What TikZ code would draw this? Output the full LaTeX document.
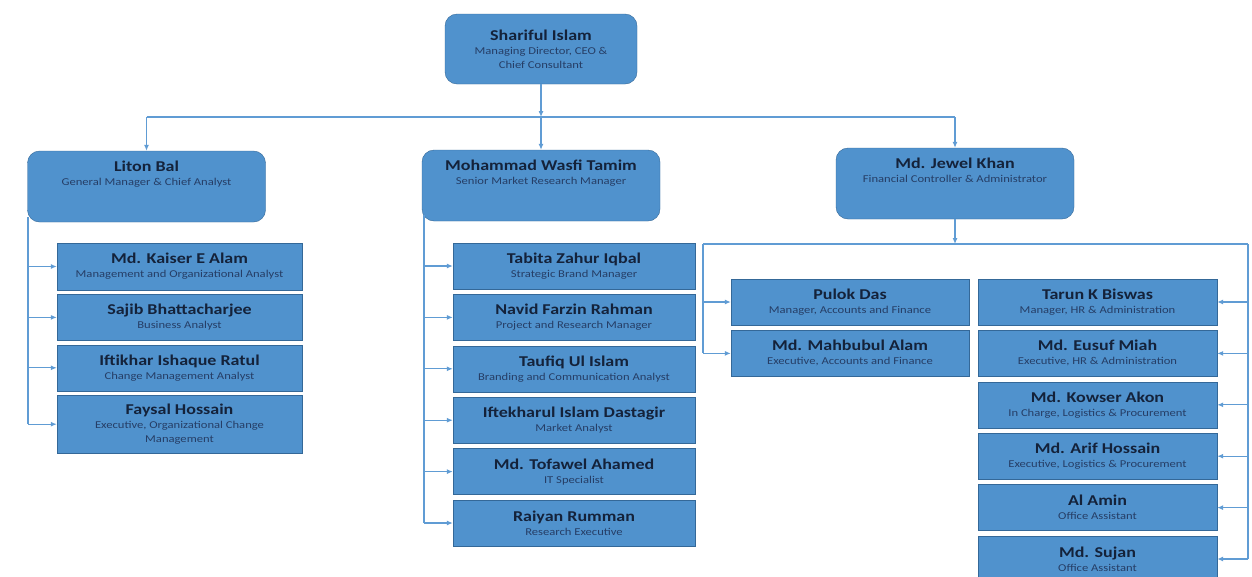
\documentclass[tikz,border=0pt]{standalone}
\usepackage{fontspec}
\setmainfont{Carlito}[FakeStretch=1.2]
\usepackage{tikz}
\usetikzlibrary{arrows.meta,positioning}
\definecolor{boxblue}{RGB}{80,146,205}
\definecolor{boxedge}{RGB}{52,104,152}
\definecolor{linkblue}{RGB}{96,156,212}
\definecolor{namecol}{RGB}{20,34,58}
\definecolor{rolecol}{RGB}{38,62,102}
\newcommand\pname[1]{{\fontsize{15}{17}\selectfont\bfseries\color{namecol}#1}}

\begin{document}
\begin{tikzpicture}[
  x=1pt,y=-1pt,
  node distance=5pt,
  card/.style={align=center,text=rolecol,font=\fontsize{10.5}{14}\selectfont,inner sep=2pt},
  mgr/.style={draw=boxedge,fill=boxblue,rounded corners=12pt,minimum width=238pt,minimum height=71pt},
  staff/.style={card,draw=boxedge,fill=boxblue,minimum width=242pt,minimum height=46pt,inner sep=1pt},
  wire/.style={linkblue,line width=1.1pt},
  arr/.style={wire,-{Latex[length=6pt,width=5pt]}}
]
  \fill[white] (0,0) rectangle (1252,576);
  \useasboundingbox (0,0) rectangle (1252,576);

  % top
  \node[mgr,card,minimum width=192pt,minimum height=70pt] (shariful) at (541,49)
    {\pname{Shariful Islam}\\Managing Director, CEO \&\\Chief Consultant};

  % managers
  \node[mgr] (liton) at (146.5,186.5) {};
  \node[card,below=8pt of liton.north] (liton-t) {\pname{Liton Bal}\\General Manager \& Chief Analyst};
  \node[mgr] (mohammad) at (541,185.5) {};
  \node[card,below=8pt of mohammad.north] (mohammad-t) {\pname{Mohammad Wasfi Tamim}\\Senior Market Research Manager};
  \node[mgr] (jewel) at (955,183.5) {};
  \node[card,below=8pt of jewel.north] (jewel-t) {\pname{Md. Jewel Khan}\\Financial Controller \& Administrator};

  % left column
  \node[staff,minimum width=245pt,minimum height=47pt] (kaiser) at (179.5,266.5)
    {\pname{Md. Kaiser E Alam}\\Management and Organizational Analyst};
  \node[staff,minimum width=245pt,below=4pt of kaiser] (sajib) {\pname{Sajib Bhattacharjee}\\Business Analyst};
  \node[staff,minimum width=245pt,below=4pt of sajib] (iftikhar) {\pname{Iftikhar Ishaque Ratul}\\Change Management Analyst};
  \node[staff,minimum width=245pt,minimum height=58pt,below=4pt of iftikhar] (faysal)
    {\pname{Faysal Hossain}\\Executive, Organizational Change\\Management};

  % middle column
  \node[staff] (tabita) at (574,266) {\pname{Tabita Zahur Iqbal}\\Strategic Brand Manager};
  \node[staff,below=of tabita] (navid) {\pname{Navid Farzin Rahman}\\Project and Research Manager};
  \node[staff,below=of navid] (taufiq) {\pname{Taufiq Ul Islam}\\Branding and Communication Analyst};
  \node[staff,below=of taufiq] (iftekharul) {\pname{Iftekharul Islam Dastagir}\\Market Analyst};
  \node[staff,below=of iftekharul] (tofawel) {\pname{Md. Tofawel Ahamed}\\IT Specialist};
  \node[staff,below=of tofawel] (raiyan) {\pname{Raiyan Rumman}\\Research Executive};

  % right block
  \node[staff,minimum width=238pt] (pulok) at (850,302) {\pname{Pulok Das}\\Manager, Accounts and Finance};
  \node[staff,minimum width=238pt,below=of pulok] (mahbubul) {\pname{Md. Mahbubul Alam}\\Executive, Accounts and Finance};
  \node[staff,minimum width=239pt] (tarun) at (1097.5,302) {\pname{Tarun K Biswas}\\Manager, HR \& Administration};
  \node[staff,minimum width=239pt,below=of tarun] (eusuf) {\pname{Md. Eusuf Miah}\\Executive, HR \& Administration};
  \node[staff,minimum width=239pt,below=of eusuf] (kowser) {\pname{Md. Kowser Akon}\\In Charge, Logistics \& Procurement};
  \node[staff,minimum width=239pt,below=of kowser] (arif) {\pname{Md. Arif Hossain}\\Executive, Logistics \& Procurement};
  \node[staff,minimum width=239pt,below=of arif] (alamin) {\pname{Al Amin}\\Office Assistant};
  \node[staff,minimum width=239pt,below=of alamin] (sujan) {\pname{Md. Sujan}\\Office Assistant};

  % connectors
  \coordinate (topbus) at (541,117);
  \draw[arr] (shariful) -- (topbus);
  \draw[wire] (liton.north |- topbus) -- (jewel.north |- topbus);
  \foreach \n in {liton,mohammad,jewel}
    \draw[arr] (\n.north |- topbus) -- (\n.north);

  \coordinate (lspine) at (28,217);
  \draw[wire] (lspine) -- (lspine |- faysal.west);
  \foreach \n in {kaiser,sajib,iftikhar,faysal}
    \draw[arr] (lspine |- \n.west) -- (\n.west);

  \coordinate (mspine) at (424,215);
  \draw[wire] (mspine) -- (mspine |- raiyan.west);
  \foreach \n in {tabita,navid,taufiq,iftekharul,tofawel,raiyan}
    \draw[arr] (mspine |- \n.west) -- (\n.west);

  \coordinate (fl) at (703,244);
  \coordinate (fr) at (1248,244);
  \draw[arr] (jewel) -- (jewel.south |- fl);
  \draw[wire] (fl) -- (fr);
  \draw[wire] (fl) -- (fl |- mahbubul.west);
  \draw[wire] (fr) -- (fr |- sujan.east);
  \foreach \n in {pulok,mahbubul}
    \draw[arr] (fl |- \n.west) -- (\n.west);
  \foreach \n in {tarun,eusuf,kowser,arif,alamin,sujan}
    \draw[arr] (fr |- \n.east) -- (\n.east);
\end{tikzpicture}
\end{document}
